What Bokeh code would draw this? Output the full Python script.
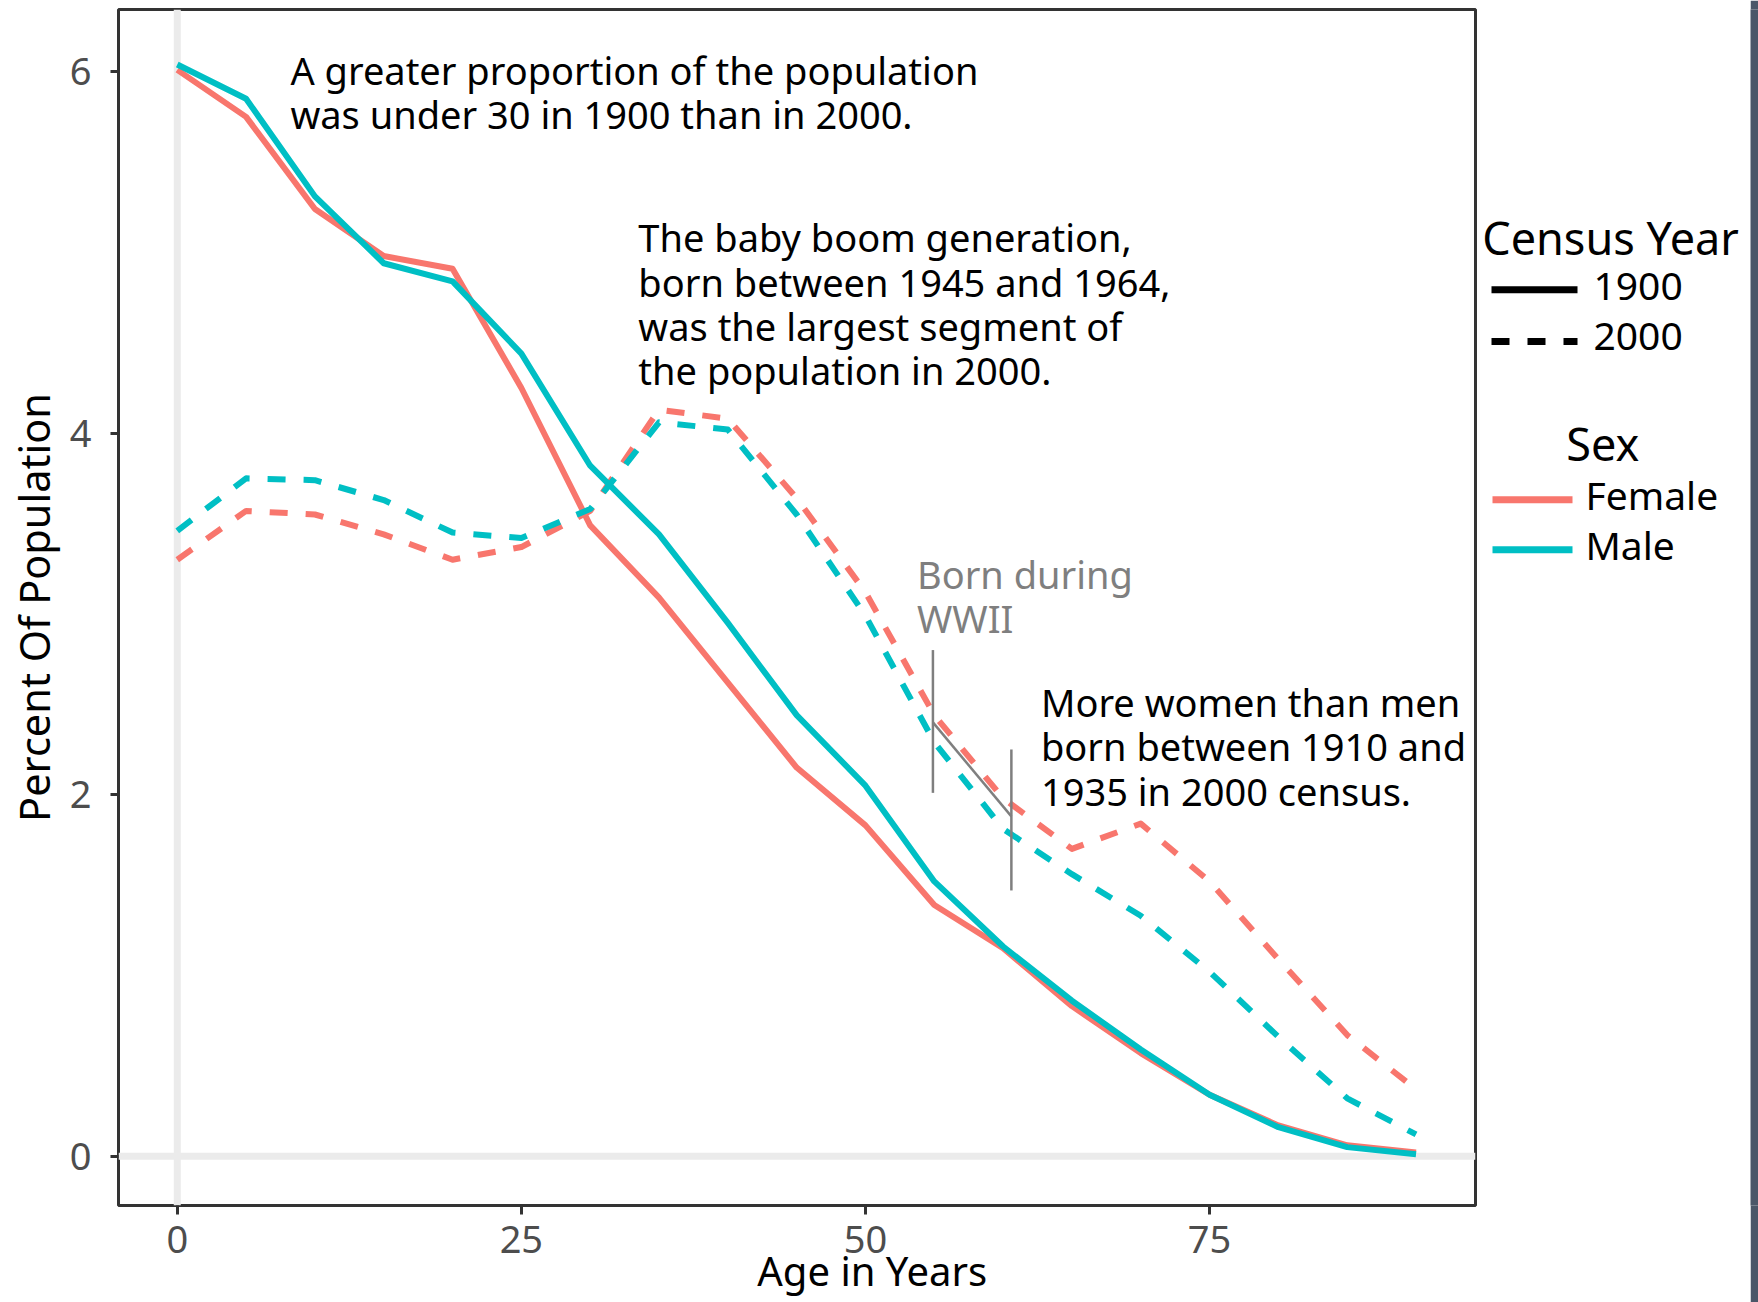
from bokeh.plotting import figure
from bokeh.models import Range1d, Span, FixedTicker, ColumnDataSource
from bokeh.layouts import row
from bokeh.core.properties import value
from bokeh.embed import file_html
from bokeh.resources import INLINE

# ---------------- data ----------------
ages = [0, 5, 10, 15, 20, 25, 30, 35, 40, 45, 50, 55, 60, 65, 70, 75, 80, 85, 90]
female_1900 = [6.01, 5.75, 5.24, 4.98, 4.91, 4.25, 3.49, 3.09, 2.62, 2.15, 1.83, 1.39, 1.15, 0.83, 0.57, 0.34, 0.17, 0.06, 0.02]
male_1900 = [6.04, 5.85, 5.31, 4.94, 4.84, 4.44, 3.82, 3.44, 2.95, 2.44, 2.05, 1.52, 1.16, 0.86, 0.59, 0.34, 0.16, 0.05, 0.01]
female_2000 = [3.30, 3.57, 3.55, 3.44, 3.30, 3.37, 3.57, 4.13, 4.08, 3.64, 3.12, 2.44, 1.98, 1.70, 1.84, 1.52, 1.09, 0.67, 0.37]
male_2000 = [3.46, 3.75, 3.74, 3.63, 3.45, 3.42, 3.58, 4.06, 4.02, 3.55, 2.99, 2.29, 1.81, 1.56, 1.33, 1.02, 0.66, 0.32, 0.12]

x_ticks = [0, 25, 50, 75]
y_ticks = [0, 2, 4, 6]

# WWII bracket segments (age, percent)
seg_x0 = [54.9, 60.6, 54.9]
seg_y0 = [2.80, 2.25, 2.40]
seg_x1 = [54.9, 60.6, 60.6]
seg_y1 = [2.01, 1.47, 1.88]

ann_lines = [
    ["A greater proportion of the population", "was under 30 in 1900 than in 2000."],
    ["The baby boom generation,", "born between 1945 and 1964,", "was the largest segment of", "the population in 2000."],
    ["Born during", "WWII"],
    ["More women than men", "born between 1910 and", "1935 in 2000 census."],
]
ann_x = [8.22, 33.5, 53.74, 62.75]
ann_y = [5.933, 5.007, 3.144, 2.436]          # baseline of first line
ann_colors = ["#000000", "#000000", "#7F7F7F", "#000000"]

legend_titles = ["Census Year", "Sex"]
legend_labels = ["1900", "2000", "Female", "Male"]
x_title = "Age in Years"
y_title = "Percent Of Population"

FONT = "Noto Sans"
RED = "#F8766D"
TEAL = "#00BFC4"
LINE_STEP = 0.246
PX_PER_Y = 180.7
SHIFT = 0.37          # em offset of the rendered baseline
ANN_SIZE = 38
H = 1302
FRAME_BOTTOM = 1205
# the reference's x title sits right of the panel centre: pad it on the left
X_TITLE_PAD = "\u2003\u2003\u2003\u2002\u00a0"

# ---------------- main panel ----------------
p = figure(width=1478, height=H,
           x_range=Range1d(-4.27, 94.32), y_range=Range1d(-0.273, 6.344),
           output_backend="svg", toolbar_location=None,
           min_border_left=118, min_border_right=3, min_border_top=9,
           min_border_bottom=H - FRAME_BOTTOM)
p.xgrid.visible = False
p.ygrid.visible = False
p.outline_line_color = "#333333"
p.outline_line_width = 3
p.background_fill_color = "white"
p.border_fill_color = "white"

for ax, ticks, out, standoff in ((p.xaxis, x_ticks, 9, 11), (p.yaxis, y_ticks, 8, 19)):
    ax.ticker = FixedTicker(ticks=ticks)
    ax.axis_line_color = None
    ax.minor_tick_line_color = None
    ax.major_tick_line_color = "#333333"
    ax.major_tick_line_width = 3
    ax.major_tick_in = 0
    ax.major_tick_out = out
    ax.major_label_standoff = standoff
    ax.major_label_text_font = FONT
    ax.major_label_text_font_size = "38px"
    ax.major_label_text_color = "#4D4D4D"
    ax.axis_label_text_font = FONT
    ax.axis_label_text_font_style = "normal"
    ax.axis_label_text_color = "#000000"

p.yaxis.axis_label = y_title
p.yaxis.axis_label_standoff = 5
p.yaxis.axis_label_text_font_size = "41.5px"
p.xaxis.axis_label = X_TITLE_PAD + x_title
p.xaxis.axis_label_standoff = -13
p.xaxis.axis_label_text_font_size = "40px"

p.add_layout(Span(location=0, dimension="height", line_color="#EBEBEB", line_width=7, level="underlay"))
p.add_layout(Span(location=0, dimension="width", line_color="#EBEBEB", line_width=7, level="underlay"))

for ys, color, dash in ((female_1900, RED, "solid"), (female_2000, RED, "18 18"),
                        (male_1900, TEAL, "solid"), (male_2000, TEAL, "18 18")):
    p.line(ages, ys, line_color=color, line_width=6, line_dash=dash, line_join="round")

p.segment(x0=seg_x0, y0=seg_y0, x1=seg_x1, y1=seg_y1, line_color="#7F7F7F", line_width=2.5)

tx, ty, tt, tc = [], [], [], []
for x, y, lines, c in zip(ann_x, ann_y, ann_lines, ann_colors):
    for i, t in enumerate(lines):
        tx.append(x)
        ty.append(y - i * LINE_STEP + SHIFT * ANN_SIZE / PX_PER_Y)
        tt.append(t)
        tc.append(c)
src = ColumnDataSource(dict(x=tx, y=ty, text=tt, color=tc))
p.text(x="x", y="y", text="text", text_color="color", source=src,
       text_font=value(FONT), text_font_size=value(f"{ANN_SIZE}px"),
       text_align="left", text_baseline="alphabetic")

# ---------------- legend panel (coordinates = page pixels) ----------------
q = figure(width=272, height=H, x_range=Range1d(1478, 1750), y_range=Range1d(FRAME_BOTTOM, 9),
           output_backend="svg", toolbar_location=None,
           min_border_left=0, min_border_right=0, min_border_top=9,
           min_border_bottom=H - FRAME_BOTTOM)
q.axis.visible = False
q.xgrid.visible = False
q.ygrid.visible = False
q.outline_line_color = None
q.background_fill_color = "white"
q.border_fill_color = "white"

key_x0 = [1491, 1491, 1492, 1492]
key_x1 = [1577, 1577, 1572, 1572]
key_y = [289.3, 341, 499.3, 549.3]
key_color = ["#000000", "#000000", RED, TEAL]
key_dash = ["solid", "18 18", "solid", "solid"]
for a, b, y, c, d in zip(key_x0, key_x1, key_y, key_color, key_dash):
    q.line([a, b], [y, y], line_color=c, line_width=7, line_dash=d)

q.text(x=[1481.7, 1602.3], y=[253.3 - SHIFT * 45, 460 - SHIFT * 45], text=legend_titles,
       text_align=["left", "center"], text_baseline="alphabetic",
       text_font=value(FONT), text_font_size=value("45px"), text_color="#000000")
q.text(x=[1593, 1593, 1585, 1585],
       y=[300.7 - SHIFT * 39, 350 - SHIFT * 39, 508.3 - SHIFT * 39, 558.3 - SHIFT * 39],
       text=legend_labels, text_align="left", text_baseline="alphabetic",
       text_font=value(FONT), text_font_size=value("39px"), text_color="#000000")

# ---------------- window edge strip at the far right ----------------
s = figure(width=8, height=H, output_backend="svg", toolbar_location=None,
           min_border_left=0, min_border_right=0, min_border_top=0, min_border_bottom=0)
s.axis.visible = False
s.grid.visible = False
s.outline_line_color = None
s.background_fill_color = "#4A5668"
s.border_fill_color = "#4A5668"

layout = row(p, q, s)
open("out.html", "w").write(file_html(layout, INLINE))
